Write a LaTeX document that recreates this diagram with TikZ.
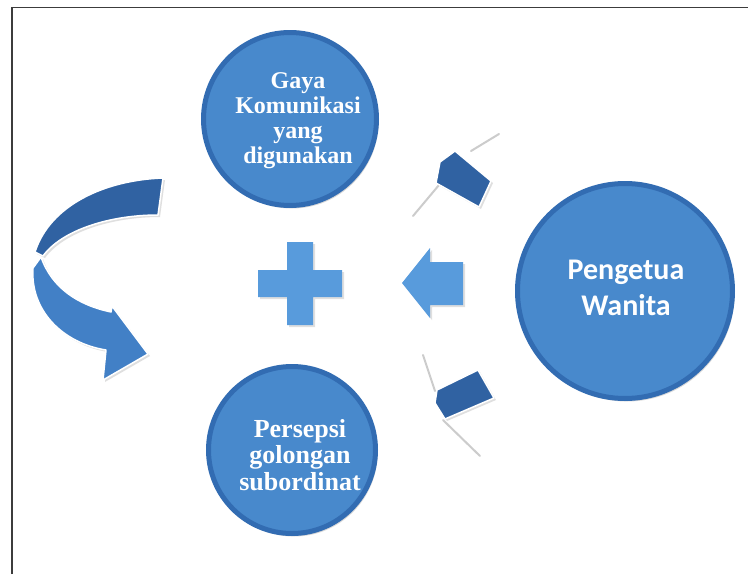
\documentclass[tikz,border=0pt]{standalone}
\usepackage{fontspec}
\setmainfont{Liberation Serif}
\newfontfamily\carlito{Carlito}
\usetikzlibrary{shadows}
\definecolor{rimblue}{RGB}{50,108,178}
\definecolor{faceblue}{RGB}{72,137,204}
\definecolor{plusblue}{RGB}{88,155,220}
\definecolor{deepblue}{RGB}{48,98,162}
\definecolor{bandblue}{RGB}{66,128,198}
\definecolor{framegray}{RGB}{60,60,60}
\tikzset{
  disc/.style={circle, fill=faceblue, draw=rimblue, line width=5pt, inner sep=0pt,
    drop shadow={opacity=.3, shadow xshift=2pt, shadow yshift=-3pt}},
  lbl/.style={text=white, align=center, inner sep=0pt},
  blk/.style={fill=plusblue, drop shadow={opacity=.25, shadow xshift=2pt, shadow yshift=-2pt}},
  ribbon/.style={draw=white, line width=1.5pt, line join=round, drop shadow={opacity=.25, shadow xshift=2pt, shadow yshift=-2pt}},
  wing/.style={draw=gray!40, line width=2pt, line cap=round}
}
\begin{document}
\begin{tikzpicture}[x=1pt,y=-1pt]
\useasboundingbox[fill=white] (0,0) rectangle (748,574);
\draw[framegray, line width=1.5pt] (12,574) -- (12,7.5) -- (748,7.5);
\node[disc, minimum size=173pt] (gaya) at (290,119){};
\node[lbl, font=\bfseries\fontsize{24}{25}\selectfont] (gayatxt) at (298,121){Gaya\\Komunikasi\\yang\\digunakan};
\node[disc, minimum size=167pt] (persepsi) at (292,450){};
\node[lbl, font=\bfseries\fontsize{26}{26.5}\selectfont] (persepsitxt) at (300,455){Persepsi\\golongan\\subordinat};
\node[disc, minimum size=215pt] (pengetua) at (625,291){};
\node[lbl, font=\carlito\bfseries\fontsize{30}{36}\selectfont] (pengetuatxt) at (626,288){Pengetua\\Wanita};
\fill[blk] (287,242) -- (313,242) -- (313,270) -- (342,270) -- (342,297) -- (313,297) -- (313,325)
  -- (287,325) -- (287,297) -- (258,297) -- (258,270) -- (287,270) -- cycle;
\fill[blk] (402,283) -- (430,248) -- (430,262) -- (463,262) -- (463,305) -- (430,305) -- (430,318) -- cycle;
\draw[wing] (413,216) -- (439,185);
\draw[wing] (471,151) -- (499,134);
\filldraw[ribbon, fill=deepblue] (440,162) -- (455,151) -- (491,181) -- (479,207) -- (436,183) -- cycle;
\draw[wing] (423,355) -- (435,391);
\draw[wing] (443,420) -- (480,456);
\filldraw[ribbon, fill=deepblue] (437,390) -- (478,370) -- (494,398) -- (445,419) -- (435,403) -- cycle;
\filldraw[ribbon, fill=bandblue] (33,268) .. controls (30,310) and (62,343) .. (106,350) -- (103,380) -- (148,354)
  -- (112,306) -- (111,312) .. controls (78,305) and (52,288) .. (41,257) -- cycle;
\filldraw[ribbon, fill=deepblue] (163,178) .. controls (105,180) and (50,205) .. (35,252) -- (43,256)
  .. controls (62,230) and (110,215) .. (158,215) -- cycle;
\end{tikzpicture}
\end{document}
